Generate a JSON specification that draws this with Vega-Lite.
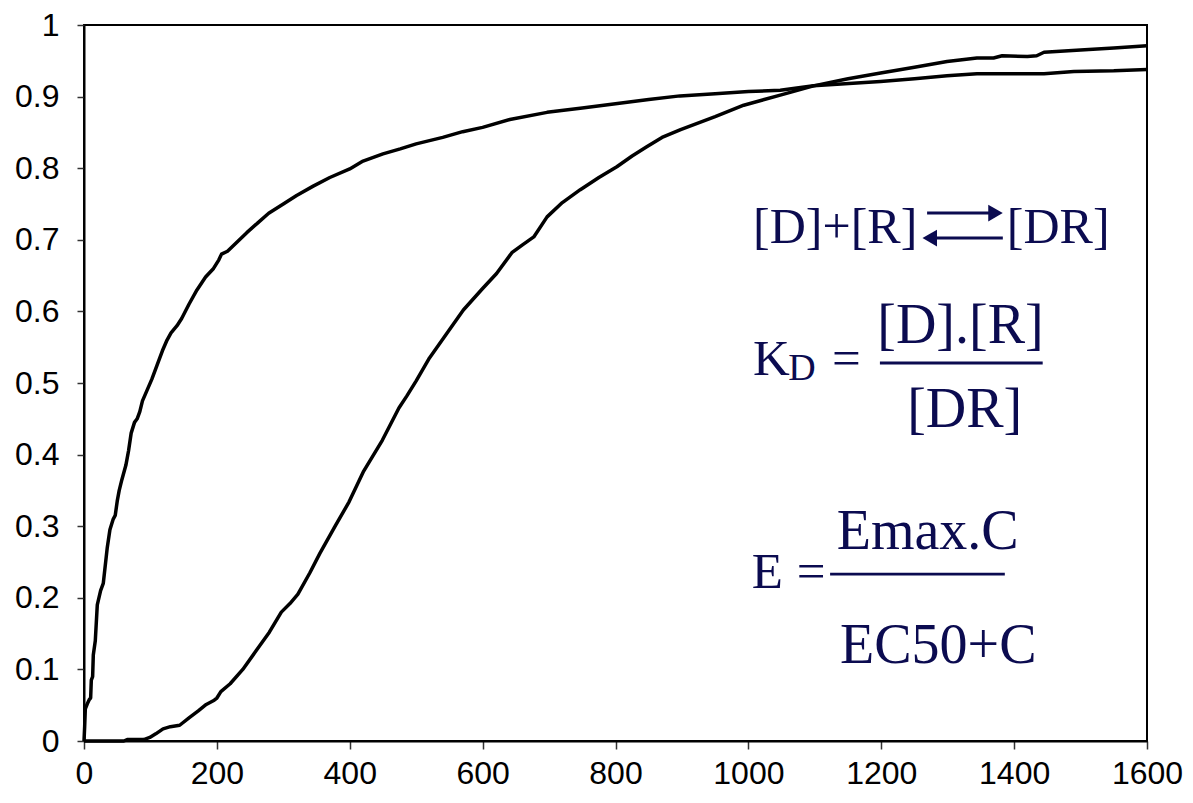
{
  "$schema": "https://vega.github.io/schema/vega-lite/v6.json",
  "autosize": {"type": "none"},
  "padding": {"left": 84, "top": 25, "right": 46, "bottom": 62},
  "width": 1063,
  "height": 716,
  "background": "white",
  "config": {
    "view": {"stroke": "#000", "strokeWidth": 2},
    "axis": {
      "domainColor": "#000", "domainWidth": 2,
      "tickColor": "#333", "tickWidth": 1.5,
      "labelFont": "Liberation Sans", "labelFontSize": 32, "labelColor": "#000",
      "grid": false, "title": null
    }
  },
  "datasets": {
    "curves": [
      {"s": "a", "c": 0, "e": 0},
      {"s": "a", "c": 1, "e": 0.02},
      {"s": "a", "c": 2, "e": 0.045},
      {"s": "a", "c": 5, "e": 0.052},
      {"s": "a", "c": 8, "e": 0.058},
      {"s": "a", "c": 10, "e": 0.06},
      {"s": "a", "c": 11, "e": 0.085},
      {"s": "a", "c": 13, "e": 0.09},
      {"s": "a", "c": 14, "e": 0.12},
      {"s": "a", "c": 17, "e": 0.14},
      {"s": "a", "c": 20, "e": 0.19},
      {"s": "a", "c": 25, "e": 0.21},
      {"s": "a", "c": 29, "e": 0.22},
      {"s": "a", "c": 35, "e": 0.27},
      {"s": "a", "c": 39, "e": 0.295},
      {"s": "a", "c": 44, "e": 0.31},
      {"s": "a", "c": 47, "e": 0.315},
      {"s": "a", "c": 50, "e": 0.335},
      {"s": "a", "c": 53, "e": 0.35},
      {"s": "a", "c": 57, "e": 0.365},
      {"s": "a", "c": 63, "e": 0.385},
      {"s": "a", "c": 67, "e": 0.405},
      {"s": "a", "c": 71, "e": 0.43},
      {"s": "a", "c": 76, "e": 0.445},
      {"s": "a", "c": 80, "e": 0.45},
      {"s": "a", "c": 84, "e": 0.46},
      {"s": "a", "c": 88, "e": 0.475},
      {"s": "a", "c": 95, "e": 0.49},
      {"s": "a", "c": 102, "e": 0.505},
      {"s": "a", "c": 110, "e": 0.525},
      {"s": "a", "c": 118, "e": 0.545},
      {"s": "a", "c": 125, "e": 0.56},
      {"s": "a", "c": 131, "e": 0.57},
      {"s": "a", "c": 140, "e": 0.58},
      {"s": "a", "c": 147, "e": 0.59},
      {"s": "a", "c": 158, "e": 0.61},
      {"s": "a", "c": 170, "e": 0.63},
      {"s": "a", "c": 183, "e": 0.648},
      {"s": "a", "c": 195, "e": 0.66},
      {"s": "a", "c": 203, "e": 0.672},
      {"s": "a", "c": 207, "e": 0.68},
      {"s": "a", "c": 216, "e": 0.684},
      {"s": "a", "c": 225, "e": 0.692},
      {"s": "a", "c": 245, "e": 0.71},
      {"s": "a", "c": 262, "e": 0.724},
      {"s": "a", "c": 278, "e": 0.737},
      {"s": "a", "c": 300, "e": 0.75},
      {"s": "a", "c": 320, "e": 0.762},
      {"s": "a", "c": 345, "e": 0.775},
      {"s": "a", "c": 370, "e": 0.787},
      {"s": "a", "c": 400, "e": 0.799},
      {"s": "a", "c": 420, "e": 0.81},
      {"s": "a", "c": 450, "e": 0.82},
      {"s": "a", "c": 476, "e": 0.827},
      {"s": "a", "c": 500, "e": 0.834},
      {"s": "a", "c": 540, "e": 0.843},
      {"s": "a", "c": 570, "e": 0.851},
      {"s": "a", "c": 600, "e": 0.857},
      {"s": "a", "c": 641, "e": 0.868},
      {"s": "a", "c": 697, "e": 0.878},
      {"s": "a", "c": 750, "e": 0.884},
      {"s": "a", "c": 800, "e": 0.89},
      {"s": "a", "c": 850, "e": 0.896},
      {"s": "a", "c": 897, "e": 0.901},
      {"s": "a", "c": 950, "e": 0.904},
      {"s": "a", "c": 1000, "e": 0.907},
      {"s": "a", "c": 1048, "e": 0.909},
      {"s": "a", "c": 1098, "e": 0.915},
      {"s": "a", "c": 1199, "e": 0.921},
      {"s": "a", "c": 1250, "e": 0.925},
      {"s": "a", "c": 1299, "e": 0.929},
      {"s": "a", "c": 1344, "e": 0.932},
      {"s": "a", "c": 1400, "e": 0.932},
      {"s": "a", "c": 1445, "e": 0.932},
      {"s": "a", "c": 1490, "e": 0.935},
      {"s": "a", "c": 1550, "e": 0.936},
      {"s": "a", "c": 1600, "e": 0.938},
      {"s": "b", "c": 0, "e": 0},
      {"s": "b", "c": 60, "e": 0},
      {"s": "b", "c": 65, "e": 0.002},
      {"s": "b", "c": 90, "e": 0.002},
      {"s": "b", "c": 99, "e": 0.005},
      {"s": "b", "c": 108, "e": 0.01},
      {"s": "b", "c": 119, "e": 0.017},
      {"s": "b", "c": 130, "e": 0.02},
      {"s": "b", "c": 144, "e": 0.022},
      {"s": "b", "c": 159, "e": 0.033},
      {"s": "b", "c": 172, "e": 0.042},
      {"s": "b", "c": 184, "e": 0.051},
      {"s": "b", "c": 196, "e": 0.057},
      {"s": "b", "c": 200, "e": 0.06},
      {"s": "b", "c": 206, "e": 0.069},
      {"s": "b", "c": 220, "e": 0.08},
      {"s": "b", "c": 239, "e": 0.1},
      {"s": "b", "c": 259, "e": 0.126},
      {"s": "b", "c": 279, "e": 0.152},
      {"s": "b", "c": 297, "e": 0.18},
      {"s": "b", "c": 310, "e": 0.192},
      {"s": "b", "c": 322, "e": 0.205},
      {"s": "b", "c": 340, "e": 0.235},
      {"s": "b", "c": 355, "e": 0.262},
      {"s": "b", "c": 378, "e": 0.3},
      {"s": "b", "c": 399, "e": 0.334},
      {"s": "b", "c": 421, "e": 0.377},
      {"s": "b", "c": 449, "e": 0.42},
      {"s": "b", "c": 474, "e": 0.465},
      {"s": "b", "c": 486, "e": 0.482},
      {"s": "b", "c": 500, "e": 0.503},
      {"s": "b", "c": 520, "e": 0.535},
      {"s": "b", "c": 546, "e": 0.569},
      {"s": "b", "c": 571, "e": 0.602},
      {"s": "b", "c": 600, "e": 0.632},
      {"s": "b", "c": 621, "e": 0.653},
      {"s": "b", "c": 644, "e": 0.682},
      {"s": "b", "c": 660, "e": 0.693},
      {"s": "b", "c": 677, "e": 0.704},
      {"s": "b", "c": 697, "e": 0.732},
      {"s": "b", "c": 720, "e": 0.752},
      {"s": "b", "c": 747, "e": 0.77},
      {"s": "b", "c": 775, "e": 0.787},
      {"s": "b", "c": 802, "e": 0.802},
      {"s": "b", "c": 825, "e": 0.817},
      {"s": "b", "c": 847, "e": 0.83},
      {"s": "b", "c": 870, "e": 0.843},
      {"s": "b", "c": 898, "e": 0.854},
      {"s": "b", "c": 950, "e": 0.872},
      {"s": "b", "c": 993, "e": 0.888},
      {"s": "b", "c": 1048, "e": 0.902},
      {"s": "b", "c": 1098, "e": 0.915},
      {"s": "b", "c": 1150, "e": 0.925},
      {"s": "b", "c": 1199, "e": 0.933},
      {"s": "b", "c": 1250, "e": 0.941},
      {"s": "b", "c": 1299, "e": 0.949},
      {"s": "b", "c": 1344, "e": 0.954},
      {"s": "b", "c": 1369, "e": 0.954},
      {"s": "b", "c": 1382, "e": 0.957},
      {"s": "b", "c": 1420, "e": 0.956},
      {"s": "b", "c": 1434, "e": 0.957},
      {"s": "b", "c": 1445, "e": 0.962},
      {"s": "b", "c": 1500, "e": 0.965},
      {"s": "b", "c": 1550, "e": 0.968},
      {"s": "b", "c": 1600, "e": 0.971}
    ],
    "labels": [
      {"g": "top", "t": "[D]+[R]", "c": 1007, "e": 0.6955},
      {"g": "top", "t": "[DR]", "c": 1389, "e": 0.6955},
      {"g": "main", "t": "K", "c": 1007, "e": 0.5112},
      {"g": "main", "t": "=", "c": 1126, "e": 0.5112},
      {"g": "main", "t": "E", "c": 1005, "e": 0.2137},
      {"g": "main", "t": "=", "c": 1073, "e": 0.2137},
      {"g": "sub", "t": "D", "c": 1060, "e": 0.504},
      {"g": "frac", "t": "[D].[R]", "c": 1194, "e": 0.5559},
      {"g": "frac", "t": "[DR]", "c": 1239, "e": 0.4385},
      {"g": "frac", "t": "Emax.C", "c": 1133, "e": 0.2682},
      {"g": "frac", "t": "EC50+C", "c": 1138, "e": 0.1089}
    ],
    "bars": [
      {"c": 1198, "c2": 1443, "e": 0.5279},
      {"c": 1123, "c2": 1386, "e": 0.2332},
      {"c": 1269, "c2": 1370, "e": 0.7374},
      {"c": 1276, "c2": 1383, "e": 0.7025}
    ],
    "headR": [{"c": 1372, "e": 0.7374}],
    "headL": [{"c": 1273, "e": 0.7025}]
  },
  "layer": [
    {
      "data": {"name": "curves"},
      "mark": {"type": "line", "color": "#000", "strokeWidth": 3.5, "strokeJoin": "round"},
      "encoding": {
        "x": {"field": "c", "type": "quantitative", "scale": {"domain": [0, 1600], "nice": false},
          "axis": {"values": [0, 200, 400, 600, 800, 1000, 1200, 1400, 1600], "format": "d", "tickSize": 8, "labelPadding": 9, "labelFlush": false}},
        "y": {"field": "e", "type": "quantitative", "scale": {"domain": [0, 1], "nice": false},
          "axis": {"values": [0, 0.1, 0.2, 0.3, 0.4, 0.5, 0.6, 0.7, 0.8, 0.9, 1], "format": ".1~f", "tickSize": 7, "labelPadding": 18, "labelFlush": false}},
        "detail": {"field": "s"}
      }
    },
    {
      "data": {"name": "bars"},
      "mark": {"type": "rule", "color": "#0b0b50", "strokeWidth": 2.8},
      "encoding": {
        "x": {"field": "c", "type": "quantitative"},
        "x2": {"field": "c2"},
        "y": {"field": "e", "type": "quantitative"}
      }
    },
    {
      "data": {"name": "headR"},
      "mark": {"type": "point", "shape": "triangle-right", "filled": true, "color": "#0b0b50", "size": 280, "opacity": 1},
      "encoding": {"x": {"field": "c", "type": "quantitative"}, "y": {"field": "e", "type": "quantitative"}}
    },
    {
      "data": {"name": "headL"},
      "mark": {"type": "point", "shape": "triangle-left", "filled": true, "color": "#0b0b50", "size": 280, "opacity": 1},
      "encoding": {"x": {"field": "c", "type": "quantitative"}, "y": {"field": "e", "type": "quantitative"}}
    },
    {
      "data": {"name": "labels"},
      "transform": [{"filter": "datum.g === 'top'"}],
      "mark": {"type": "text", "font": "Liberation Serif", "fontSize": 50, "align": "left", "baseline": "alphabetic", "color": "#0b0b50"},
      "encoding": {"x": {"field": "c", "type": "quantitative"}, "y": {"field": "e", "type": "quantitative"}, "text": {"field": "t"}}
    },
    {
      "data": {"name": "labels"},
      "transform": [{"filter": "datum.g === 'main'"}],
      "mark": {"type": "text", "font": "Liberation Serif", "fontSize": 51, "align": "left", "baseline": "alphabetic", "color": "#0b0b50"},
      "encoding": {"x": {"field": "c", "type": "quantitative"}, "y": {"field": "e", "type": "quantitative"}, "text": {"field": "t"}}
    },
    {
      "data": {"name": "labels"},
      "transform": [{"filter": "datum.g === 'sub'"}],
      "mark": {"type": "text", "font": "Liberation Serif", "fontSize": 38, "align": "left", "baseline": "alphabetic", "color": "#0b0b50"},
      "encoding": {"x": {"field": "c", "type": "quantitative"}, "y": {"field": "e", "type": "quantitative"}, "text": {"field": "t"}}
    },
    {
      "data": {"name": "labels"},
      "transform": [{"filter": "datum.g === 'frac'"}],
      "mark": {"type": "text", "font": "Liberation Serif", "fontSize": 56, "align": "left", "baseline": "alphabetic", "color": "#0b0b50"},
      "encoding": {"x": {"field": "c", "type": "quantitative"}, "y": {"field": "e", "type": "quantitative"}, "text": {"field": "t"}}
    }
  ]
}
